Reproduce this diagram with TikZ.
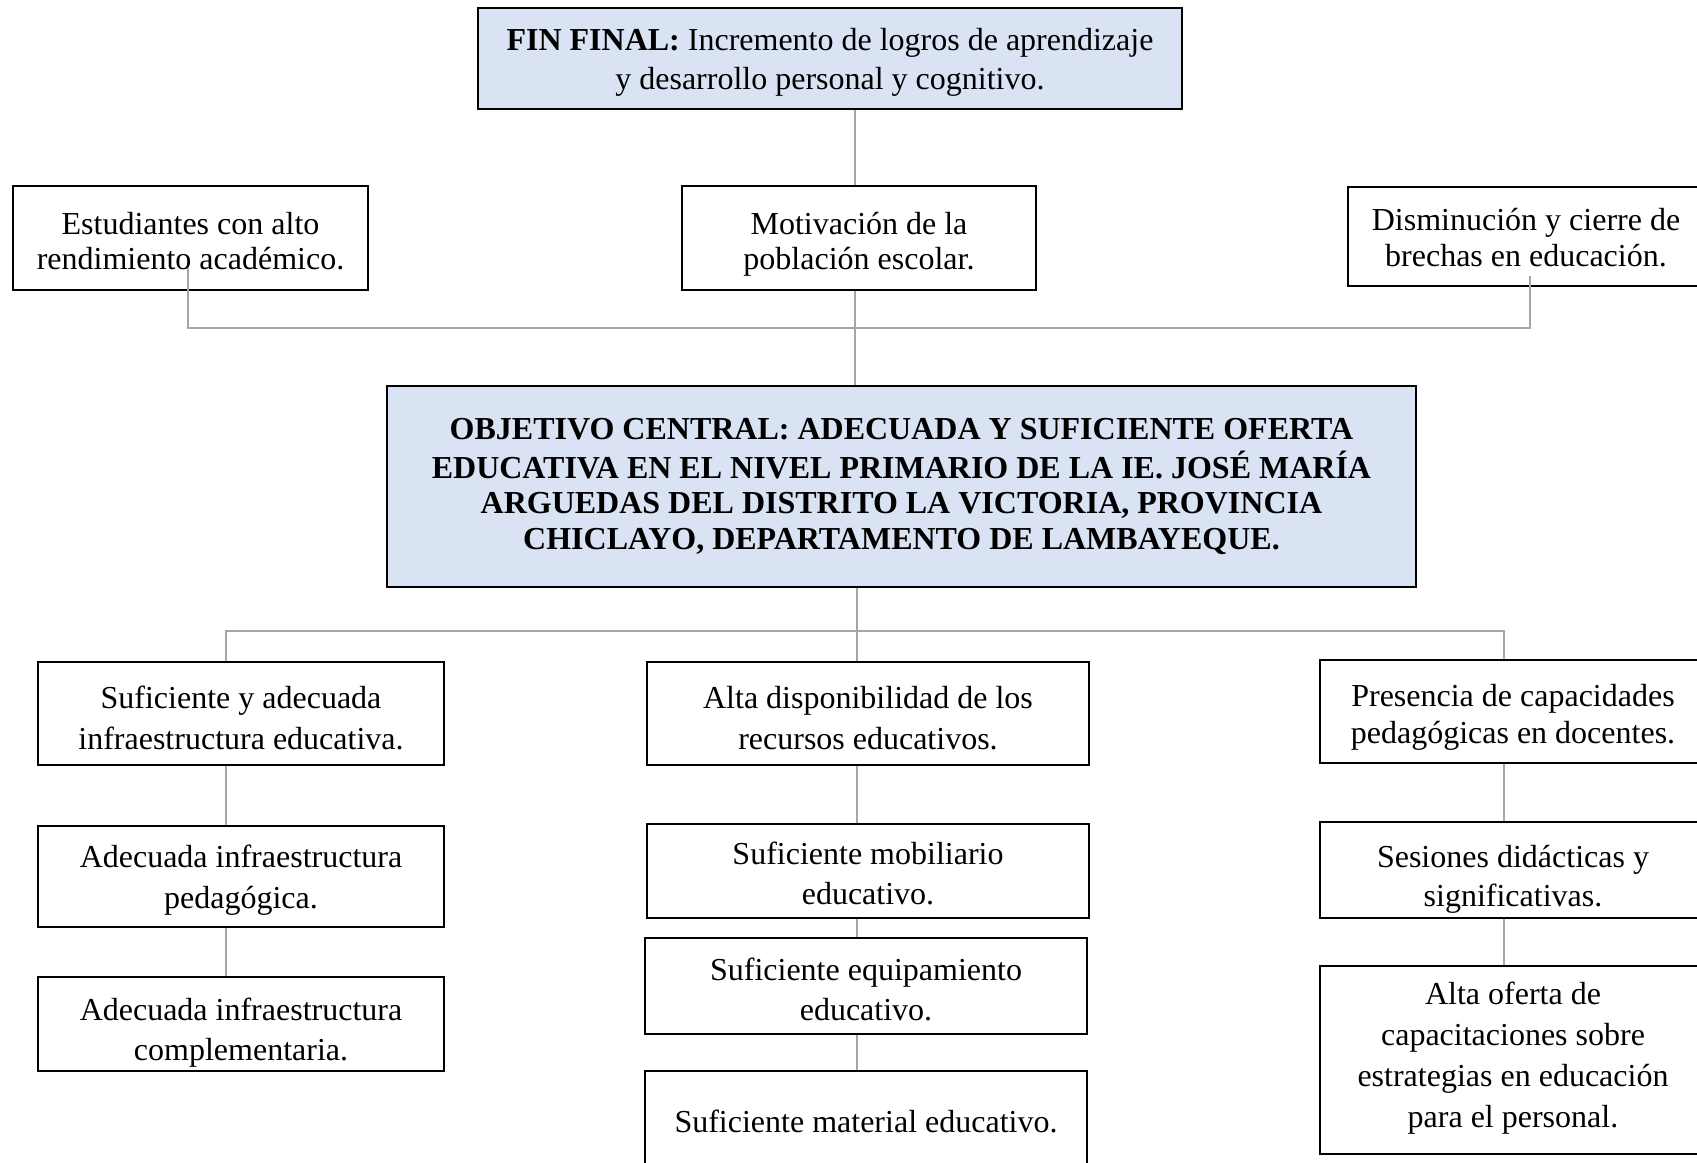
\documentclass[tikz,border=0pt]{standalone}
\usepackage{fontspec}
\setmainfont{Liberation Serif}
\usetikzlibrary{positioning}
\definecolor{finblue}{HTML}{DAE3F3}
\definecolor{linkgray}{HTML}{A6A6A6}
\tikzset{
    box/.style={rectangle, draw=black, line width=1pt, fill=white, align=center, inner sep=2pt, font=\fontsize{16}{17.6}\selectfont},
    bluebox/.style={box, fill=finblue},
    boxsize/.style 2 args={minimum width=#1*0.5pt, minimum height=#2*0.5pt},
    link/.style={draw=linkgray, line width=1pt}
}
% line spacing, vertical offset, lines
\newcommand{\celltext}[3]{\raisebox{#2}[\height][\depth]{\fontsize{16}{#1}\selectfont\begin{tabular}{@{}c@{}}#3\end{tabular}}}
\begin{document}
\begin{tikzpicture}[x=0.5pt, y=-0.5pt]
    \useasboundingbox (0,0) rectangle (1697,1162);
    % fines
    \node[bluebox, boxsize={704}{101}] (fin) at (830,58.5) {\celltext{19.5pt}{-1.75pt}{\textbf{FIN FINAL:} Incremento de logros de aprendizaje\\ y desarrollo personal y cognitivo.}};
    \node[box, boxsize={355}{104}] (est) at (190.5,238) {\celltext{17.85pt}{-3.5pt}{Estudiantes con alto\\ rendimiento académico.}};
    \node[box, boxsize={354}{104}] (mot) at (859,238) {\celltext{17.85pt}{-3.5pt}{Motivación de la\\ población escolar.}};
    \node[box, boxsize={356}{99}] (dis) at (1526,236.5) {\celltext{17.85pt}{-2.6pt}{Disminución y cierre de\\ brechas en educación.}};
    % objetivo central
    \node[bluebox, boxsize={1029}{201}, font=\fontsize{16}{17.8}\selectfont\bfseries] (obj) at (901.5,486.5) {\celltext{17.85pt}{-0.5pt}{OBJETIVO CENTRAL: ADECUADA Y SUFICIENTE OFERTA\\ EDUCATIVA EN EL NIVEL PRIMARIO DE LA IE. JOSÉ MARÍA\\ ARGUEDAS DEL DISTRITO LA VICTORIA, PROVINCIA\\ CHICLAYO, DEPARTAMENTO DE LAMBAYEQUE.}};
    % medios
    \node[box, boxsize={406}{103}] (suf) at (241,713.5) {\celltext{20.5pt}{-3.6pt}{Suficiente y adecuada\\ infraestructura educativa.}};
    \node[box, boxsize={442}{103}] (alta) at (868,713.5) {\celltext{20.5pt}{-3.6pt}{Alta disponibilidad de los\\ recursos educativos.}};
    \node[box, boxsize={386}{103}] (pres) at (1513,711.5) {\celltext{18.9pt}{-3pt}{Presencia de capacidades\\ pedagógicas en docentes.}};
    \node[box, boxsize={406}{101}] (ped) at (241,876.5) {\celltext{20.5pt}{-1.65pt}{Adecuada infraestructura\\ pedagógica.}};
    \node[box, boxsize={406}{94}] (comp) at (241,1024) {\celltext{20pt}{-4pt}{Adecuada infraestructura\\ complementaria.}};
    \node[box, boxsize={442}{94}] (mob) at (868,871) {\celltext{20pt}{-2.6pt}{Suficiente mobiliario\\ educativo.}};
    \node[box, boxsize={442}{96}] (equ) at (866,986) {\celltext{20pt}{-3pt}{Suficiente equipamiento\\ educativo.}};
    \node[box, boxsize={442}{102}] (mat) at (866,1122) {\celltext{17.6pt}{-1.8pt}{Suficiente material educativo.}};
    \node[box, boxsize={386}{96}] (ses) at (1513,870) {\celltext{19.5pt}{-4.6pt}{Sesiones didácticas y\\ significativas.}};
    \node[box, boxsize={386}{188}] (ofe) at (1513,1060) {\celltext{20.4pt}{1pt}{Alta oferta de\\ capacitaciones sobre\\ estrategias en educación\\ para el personal.}};
    % conectores
    \coordinate (busL) at (188,328);
    \coordinate (busM) at (855,328);
    \coordinate (busR) at (1530,328);
    \coordinate (lowL) at (226,631);
    \coordinate (lowM) at (857,631);
    \coordinate (lowR) at (1504,631);
    \draw[link] (fin.south -| busM) -- (mot.north -| busM);
    \draw[link] (mot.south -| busM) -- (obj.north -| busM);
    \draw[link] (est.south -| busL) ++(0,-23) -- (busL) -- (busR) -- (dis.south -| busR) -- ++(0,-11);
    \draw[link] (obj.south -| lowM) -- (alta.north -| lowM);
    \draw[link] (suf.north -| lowL) -- (lowL) -- (lowR) -- (pres.north -| lowR);
    \draw[link] (suf.south -| lowL) -- (ped.north -| lowL);
    \draw[link] (ped.south -| lowL) -- (comp.north -| lowL);
    \draw[link] (alta.south -| lowM) -- (mob.north -| lowM);
    \draw[link] (mob.south -| lowM) -- (equ.north -| lowM);
    \draw[link] (equ.south -| lowM) -- (mat.north -| lowM);
    \draw[link] (pres.south -| lowR) -- (ses.north -| lowR);
    \draw[link] (ses.south -| lowR) -- (ofe.north -| lowR);
\end{tikzpicture}
\end{document}
